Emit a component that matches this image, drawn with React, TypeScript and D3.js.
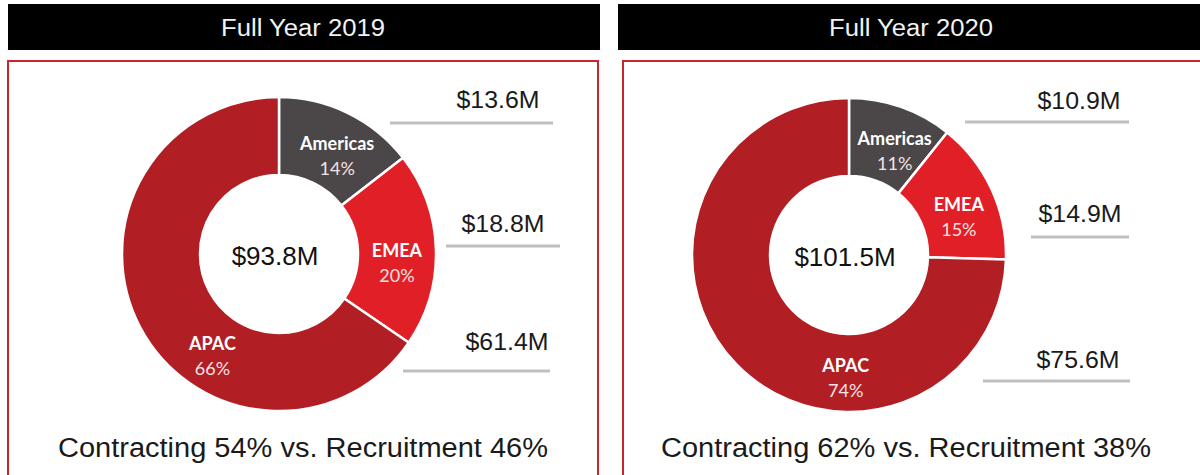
import React from 'react'
import * as d3 from 'd3'

const panelTitles = ['Full Year 2019', 'Full Year 2020']
const regions = ['Americas', 'EMEA', 'APAC']
const revenue2019 = [13.6, 18.8, 61.4]
const revenue2020 = [10.9, 14.9, 75.6]
const share2019 = [14, 20, 66]
const share2020 = [11, 15, 74]
const totals = ['$93.8M', '$101.5M']
const contractingShare = [54, 62]
const recruitmentShare = [46, 38]

const revenues = [revenue2019, revenue2020]
const shares = [share2019, share2020]

const regionColor = d3.scaleOrdinal<string, string>()
  .domain(regions)
  .range(['#4b4647', '#e11f27', '#b11e24'])

// panel placement (layout only)
const layouts = [
  {
    headerX: 8, headerW: 592, boxX: 8, boxW: 590,
    cx: 279, cy: 254, titleX: 303, footX: 303,
    rows: [
      { tx: 498, ty: 108, x1: 390, x2: 553, ly: 123 },
      { tx: 503, ty: 232, x1: 446, x2: 560, ly: 246 },
      { tx: 507, ty: 350, x1: 403, x2: 550, ly: 371 },
    ],
  },
  {
    headerX: 618, headerW: 600, boxX: 623, boxW: 600,
    cx: 849, cy: 255, titleX: 911, footX: 906,
    rows: [
      { tx: 1079, ty: 109, x1: 965, x2: 1129, ly: 122 },
      { tx: 1080, ty: 222, x1: 1031, x2: 1129, ly: 237 },
      { tx: 1078, ty: 368, x1: 983, x2: 1130, ly: 381 },
    ],
  },
]

const outerR = 157
const innerR = 79
const sans = '"Liberation Sans", Arial, sans-serif'
const labelFont = 'Lato, "Open Sans", sans-serif'

function Panel({ i }: { i: number }) {
  const L = layouts[i]
  const values = revenues[i]
  const pie = d3.pie<number>().sort(null).value(d => d)
  const arcs = pie(values)
  const arc = d3.arc<d3.PieArcDatum<number>>().innerRadius(innerR).outerRadius(outerR)
  const labelR = (innerR + outerR) / 2

  return (
    <g>
      <rect x={L.headerX} y={4} width={L.headerW} height={46} fill="#000" />
      <text x={L.titleX} y={36} fill="#f2f2f2" fontFamily={sans} fontSize={23}
        textAnchor="middle" textLength={164} lengthAdjust="spacingAndGlyphs">
        {panelTitles[i]}
      </text>
      <rect x={L.boxX} y={61} width={L.boxW} height={430} fill="#fff"
        stroke="#c8262d" strokeWidth={2} />

      <g transform={`translate(${L.cx},${L.cy})`}>
        {arcs.map((a, k) => (
          <path key={k} d={arc(a) || ''} fill={regionColor(regions[k])}
            stroke="#fff" strokeWidth={2.5} />
        ))}
        {arcs.map((a, k) => {
          const mid = (a.startAngle + a.endAngle) / 2
          const ang = Math.min(mid + 0.06, a.startAngle + Math.PI / 2)
          const px = labelR * Math.sin(ang)
          const py = -labelR * Math.cos(ang)
          return (
            <g key={k} fontFamily={labelFont} fontSize={18} textAnchor="middle">
              <text x={px} y={py - 1} fill="#fff" fontWeight="bold">{regions[k]}</text>
              <text x={px} y={py + 24} fill="#f6e2e2">{shares[i][k]}%</text>
            </g>
          )
        })}
        <text x={-4} y={11} fontFamily={sans} fontSize={26} fill="#111"
          textAnchor="middle">{totals[i]}</text>
      </g>

      {L.rows.map((r, k) => (
        <g key={k}>
          <text x={r.tx} y={r.ty} fontFamily={sans} fontSize={23} fill="#1a1a1a"
            textAnchor="middle" textLength={83} lengthAdjust="spacingAndGlyphs">
            {`$${values[k].toFixed(1)}M`}
          </text>
          <line x1={r.x1} x2={r.x2} y1={r.ly} y2={r.ly} stroke="#bfbfbf" strokeWidth={3} />
        </g>
      ))}

      <text x={L.footX} y={457} fontFamily={sans} fontSize={27} fill="#1a1a1a"
        textAnchor="middle" textLength={490} lengthAdjust="spacingAndGlyphs">
        {`Contracting ${contractingShare[i]}% vs. Recruitment ${recruitmentShare[i]}%`}
      </text>
    </g>
  )
}

export default function App() {
  return (
    <svg width={1200} height={475} style={{ position: 'absolute', left: 0, top: 0 }}>
      <rect width={1200} height={475} fill="#fff" />
      {panelTitles.map((_, i) => <Panel key={i} i={i} />)}
    </svg>
  )
}
